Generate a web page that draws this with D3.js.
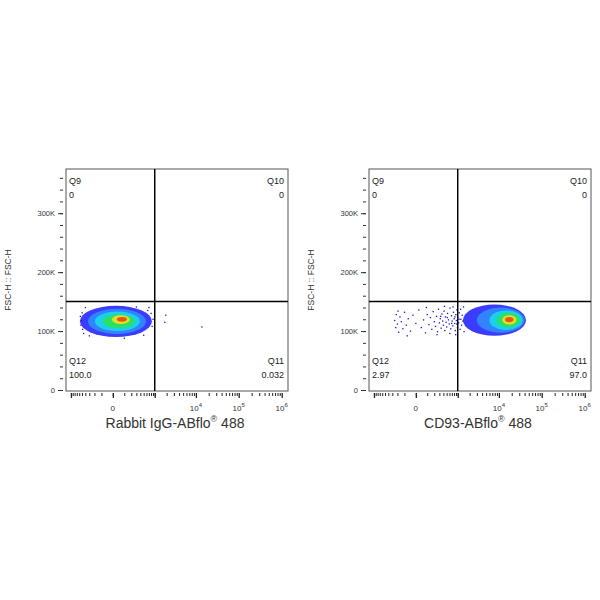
<!DOCTYPE html>
<html><head><meta charset="utf-8">
<script src="https://cdn.jsdelivr.net/npm/d3@7"></script>
<style>body{margin:0;background:#fff}</style></head>
<body><svg id="c" width="600" height="600"></svg>
<script>
const yTicksMajor = [0, 100000, 200000, 300000];
const yTickLabels = ["0", "100K", "200K", "300K"];
const xTickLabels = [{v:0,b:"0",e:""},{v:1e4,b:"10",e:"4"},{v:1e5,b:"10",e:"5"},{v:1e6,b:"10",e:"6"}];
const gateX = 1000, gateY = 150000;
const panelTitles = ["Rabbit IgG-ABflo", "CD93-ABflo"];
const quadNames = ["Q9","Q10","Q11","Q12"];
const quadValuesLeft = ["0","0","0.032","100.0"];
const quadValuesRight = ["0","0","97.0","2.97"];
const densColors = ["#1a1aff","#2f8cff","#19d9e8","#2ee05a","#f2e21a","#f0401c"];
// density levels: [xLow, xHigh, yLow, yHigh]
const levelsLeft = [[-573,843,90000,143000],[-332,580,95000,138000],[-192,388,100000,133000],[-83,268,105000,128000],[-6,176,112000,127000],[29,133,116000,124000]];
const levelsRight = [[1360,43000,92000,145000],[3000,40000,97000,140000],[6000,36000,102000,135000],[9000,32000,106000,131000],[12000,26000,111000,127000],[14000,22000,115000,124000]];
const dotsLeft = [[1800,115000],[1900,127000],[13800,107000],[-560,125000],[-540,110000],[-520,118000],[700,140000],[900,120000],[850,108000],[-450,96000],[100,88000],[-400,140000],[500,93000],[650,135000],[-500,131000],[-480,103000],[800,130000],[-300,92000],[300,141000]];
const dotsRight = [[-250,118000],[-230,106000],[-220,128000],[-200,112000],[-180,98000],[-160,124000],[-140,116000],[-120,104000],[-100,132000],[-80,110000],[-60,121000],[-40,100000],[-20,127000],[0,113000],[20,136000],[40,106000],[60,119000],[80,97000],[100,128000],[120,111000],[140,123000],[160,103000],[180,133000],[200,116000],[220,108000],[240,125000],[260,99000],[280,137000],[300,114000],[320,121000],[340,105000],[360,129000],[380,117000],[400,110000],[420,134000],[440,101000],[460,124000],[480,115000],[500,107000],[530,130000],[560,119000],[590,112000],[620,139000],[650,104000],[680,126000],[710,117000],[740,109000],[770,132000],[800,121000],[830,113000],[860,101000],[890,128000],[920,118000],[950,136000],[980,106000],[1000,123000],[1050,114000],[1100,131000],[1150,103000],[1200,120000],[1250,110000],[1300,127000],[1350,117000],[1400,141000],[1450,99000],[-190,134000],[-70,92000],[90,140000],[250,94000],[430,142000],[610,96000],[750,141000],[880,94000],[330,125000],[520,123000],[690,113000],[840,124000],[940,112000],[1080,120000],[1180,137000]];

const svg = d3.select("#c");
const font = "Liberation Sans, Arial, sans-serif";
function panel(x0, title, qvals, levels, dots){
  const W=222, top=169, bottom=391;
  const x = d3.scaleSymlog().constant(119).domain([-1340,1.4e6]).range([x0, x0+W]);
  const y = d3.scaleLinear().domain([0,375000]).range([390,169]);
  const g = svg.append("g");
  levels.forEach((l,i)=>{
    const cx=(x(l[0])+x(l[1]))/2, cy=(y(l[2])+y(l[3]))/2;
    g.append("ellipse").attr("cx",cx).attr("cy",cy).attr("rx",(x(l[1])-x(l[0]))/2).attr("ry",(y(l[2])-y(l[3]))/2)
     .attr("fill",densColors[i]).attr("opacity",i==0?0.85:0.9);
  });
  g.selectAll(".d").data(dots).enter().append("rect")
   .attr("x",d=>x(d[0])-0.6).attr("y",d=>y(d[1])-0.6).attr("width",1.3).attr("height",1.3).attr("fill","#1515d0");
  g.append("rect").attr("x",x0).attr("y",top).attr("width",W).attr("height",bottom-top).attr("fill","none").attr("stroke","#555").attr("stroke-width",1);
  g.append("line").attr("x1",x(gateX)).attr("x2",x(gateX)).attr("y1",top).attr("y2",bottom).attr("stroke","#000").attr("stroke-width",1.5);
  g.append("line").attr("x1",x0).attr("x2",x0+W).attr("y1",y(gateY)).attr("y2",y(gateY)).attr("stroke","#000").attr("stroke-width",1.5);
  const yMinor = d3.range(0,375000,20000);
  const yAx = d3.axisLeft(y).tickValues(yMinor).tickSize(3).tickFormat("");
  g.append("g").attr("transform",`translate(${x0-3},0)`).call(yAx).call(a=>a.select(".domain").remove()).selectAll("line").attr("stroke","#333");
  const yAxM = d3.axisLeft(y).tickValues(yTicksMajor).tickSize(5).tickFormat((d,i)=>yTickLabels[i]);
  const ya = g.append("g").attr("transform",`translate(${x0-3},0)`).call(yAxM);
  ya.select(".domain").remove(); ya.selectAll("line").attr("stroke","#333");
  ya.selectAll("text").attr("font-size",7.5).attr("font-family",font).attr("fill","#333");
  let xm=[]; for(let v=-1000; v<=1000; v+=100) xm.push(v);
  [1e3,1e4,1e5].forEach(b=>{for(let k=2;k<=9;k++) xm.push(b*k);});
  const xa = g.append("g").attr("transform",`translate(0,${bottom+2})`).call(d3.axisBottom(x).tickValues(xm).tickSize(3).tickFormat(""));
  xa.select(".domain").remove(); xa.selectAll("line").attr("stroke","#222");
  const xb = g.append("g").attr("transform",`translate(0,${bottom+2})`).call(d3.axisBottom(x).tickValues([-1000,0,1000,1e4,1e5,1e6]).tickSize(5).tickFormat(""));
  xb.select(".domain").remove(); xb.selectAll("line").attr("stroke","#222").attr("stroke-width",1.3);
  xTickLabels.forEach(t=>{
    const tx = g.append("text").attr("x",x(t.v)).attr("y",411).attr("text-anchor","middle").attr("font-size",8).attr("font-family",font).attr("fill","#333");
    tx.append("tspan").text(t.b);
    if(t.e) tx.append("tspan").attr("dy",-4).attr("font-size",6).text(t.e);
  });
  const qs=[[x0+3,184,"start",quadNames[0],qvals[0]],[x0+W-4,184,"end",quadNames[1],qvals[1]],[x0+W-4,364,"end",quadNames[2],qvals[2]],[x0+3,364,"start",quadNames[3],qvals[3]]];
  qs.forEach(q=>{
    g.append("text").attr("x",q[0]).attr("y",q[1]).attr("text-anchor",q[2]).attr("font-size",9).attr("font-family",font).attr("fill","#222").text(q[3]);
    g.append("text").attr("x",q[0]).attr("y",q[1]+14).attr("text-anchor",q[2]).attr("font-size",9).attr("font-family",font).attr("fill","#222").text(q[4]);
  });
  g.append("text").attr("transform",`translate(${x0-55},280) rotate(-90)`).attr("text-anchor","middle").attr("font-size",8.5).attr("font-family",font).attr("fill","#333").text("FSC-H :: FSC-H");
  const t = g.append("text").attr("x",x0+W/2-2).attr("y",428).attr("text-anchor","middle").attr("font-size",14).attr("font-family",font).attr("fill","#333");
  t.append("tspan").text(title);
  t.append("tspan").attr("dy",-6).attr("font-size",9).text("®");
  t.append("tspan").attr("dy",6).text(" 488");
}
panel(66, panelTitles[0], quadValuesLeft, levelsLeft, dotsLeft);
panel(369, panelTitles[1], quadValuesRight, levelsRight, dotsRight);
</script></body></html>
